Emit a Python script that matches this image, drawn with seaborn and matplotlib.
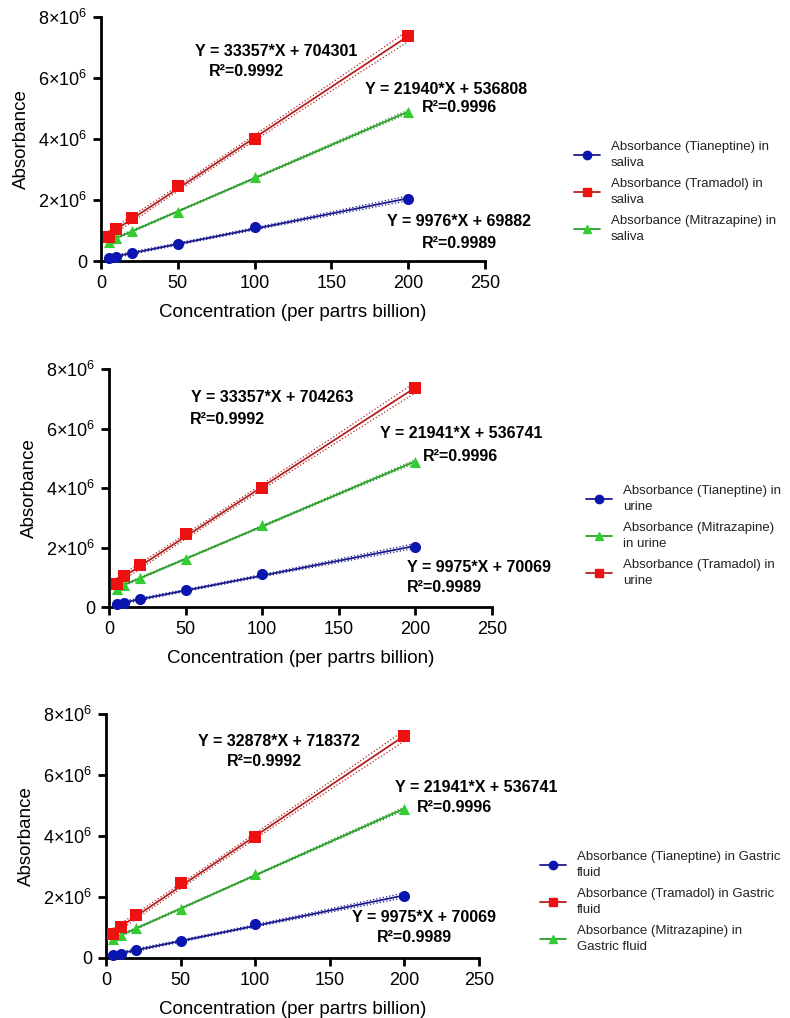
"""Calibration curves of three drugs in saliva, urine and gastric fluid."""

import matplotlib
matplotlib.use("Agg")
import matplotlib.pyplot as plt
import numpy as np
import pandas as pd
import seaborn as sns
from matplotlib.lines import Line2D
from matplotlib.ticker import FuncFormatter

# concentrations (ppb)
conc = [5, 10, 20, 50, 100, 200]

# saliva
saliva_tian = [0.09e6, 0.13e6, 0.27e6, 0.57e6, 1.10e6, 2.03e6]
saliva_tram = [0.78e6, 1.05e6, 1.40e6, 2.47e6, 4.00e6, 7.37e6]
saliva_mitr = [0.62e6, 0.76e6, 0.98e6, 1.62e6, 2.75e6, 4.88e6]

# urine
urine_tian = [0.09e6, 0.13e6, 0.27e6, 0.57e6, 1.10e6, 2.03e6]
urine_tram = [0.78e6, 1.03e6, 1.40e6, 2.47e6, 4.00e6, 7.37e6]
urine_mitr = [0.62e6, 0.74e6, 0.97e6, 1.62e6, 2.75e6, 4.88e6]

# gastric fluid
gastric_tian = [0.09e6, 0.13e6, 0.27e6, 0.57e6, 1.10e6, 2.03e6]
gastric_tram = [0.78e6, 1.03e6, 1.40e6, 2.45e6, 3.98e6, 7.27e6]
gastric_mitr = [0.62e6, 0.74e6, 0.97e6, 1.62e6, 2.75e6, 4.88e6]

# equation labels as printed on the chart
saliva_eqs = {
    "tram": ("Y = 33357*X + 704301", "R²=0.9992"),
    "mitr": ("Y = 21940*X + 536808", "R²=0.9996"),
    "tian": ("Y = 9976*X + 69882", "R²=0.9989"),
}
urine_eqs = {
    "tram": ("Y = 33357*X + 704263", "R²=0.9992"),
    "mitr": ("Y = 21941*X + 536741", "R²=0.9996"),
    "tian": ("Y = 9975*X + 70069", "R²=0.9989"),
}
gastric_eqs = {
    "tram": ("Y = 32878*X + 718372", "R²=0.9992"),
    "mitr": ("Y = 21941*X + 536741", "R²=0.9996"),
    "tian": ("Y = 9975*X + 70069", "R²=0.9989"),
}

saliva_labels = ["Absorbance (Tianeptine) in\nsaliva", "Absorbance (Tramadol) in\nsaliva",
                 "Absorbance (Mitrazapine) in\nsaliva"]
urine_labels = ["Absorbance (Tianeptine) in\nurine", "Absorbance (Mitrazapine)\nin urine",
                "Absorbance (Tramadol) in\nurine"]
gastric_labels = ["Absorbance (Tianeptine) in Gastric\nfluid",
                  "Absorbance (Tramadol) in Gastric\nfluid",
                  "Absorbance (Mitrazapine) in\nGastric fluid"]

STYLE = {
    "tian": dict(marker="o", mcolor="#0b15b0", lcolor="#1a1a8c", ms=8),
    "tram": dict(marker="s", mcolor="#ee1111", lcolor="#b22222", ms=8.5),
    "mitr": dict(marker="^", mcolor="#33cc33", lcolor="#2e9e2e", ms=8),
}
T_CRIT = 2.776  # t(0.975, df=4)

sns.set_theme(style="ticks")
plt.rcParams["font.family"] = ["Liberation Sans", "DejaVu Sans"]
plt.rcParams["mathtext.fontset"] = "custom"
plt.rcParams["mathtext.rm"] = "Liberation Sans"
plt.rcParams["axes.linewidth"] = 2
plt.rcParams["xtick.major.width"] = 2
plt.rcParams["ytick.major.width"] = 2
plt.rcParams["xtick.major.size"] = 6
plt.rcParams["ytick.major.size"] = 6
for k in ["text.color", "axes.labelcolor", "xtick.color", "ytick.color", "axes.edgecolor"]:
    plt.rcParams[k] = "black"


def sci_fmt(v, _pos):
    if v == 0:
        return "0"
    return r"$%d{\times}10^{6}$" % round(v / 1e6)


def draw_series(ax, key, values):
    st = STYLE[key]
    x = np.array(conc, dtype=float)
    y = np.array(values, dtype=float)
    slope, icpt = np.polyfit(x, y, 1)
    resid = y - (slope * x + icpt)
    s = np.sqrt(np.sum(resid ** 2) / (len(x) - 2))
    xs = np.linspace(x.min(), x.max(), 100)
    fit = slope * xs + icpt
    half = T_CRIT * s * np.sqrt(1 / len(x) + (xs - x.mean()) ** 2 / np.sum((x - x.mean()) ** 2))
    df = pd.DataFrame({"x": xs, "fit": fit, "lo": fit - half, "hi": fit + half})
    sns.lineplot(data=df, x="x", y="fit", ax=ax, color=st["lcolor"], lw=1.3)
    sns.lineplot(data=df, x="x", y="lo", ax=ax, color=st["lcolor"], lw=0.9, linestyle=":")
    sns.lineplot(data=df, x="x", y="hi", ax=ax, color=st["lcolor"], lw=0.9, linestyle=":")
    sns.scatterplot(x=x, y=y, ax=ax, marker=st["marker"], color=st["mcolor"],
                    s=st["ms"] ** 2, edgecolor=st["mcolor"], linewidth=0, zorder=5, clip_on=False)


def px(x, y):
    return x / 790, 1 - y / 1018


def panel(fig, rect, data, eqs, eq_pos, order, labels, leg_xy):
    ax = fig.add_axes(rect)
    for key in ["tian", "mitr", "tram"]:
        draw_series(ax, key, data[key])
    ax.set_xlim(0, 250)
    ax.set_ylim(0, 8e6)
    ax.set_xticks([0, 50, 100, 150, 200, 250])
    ax.set_yticks([0, 2e6, 4e6, 6e6, 8e6])
    ax.yaxis.set_major_formatter(FuncFormatter(sci_fmt))
    ax.tick_params(labelsize=13, pad=4)
    ax.set_xlabel("Concentration (per partrs billion)", fontsize=13.5, labelpad=9)
    ax.set_ylabel("Absorbance", fontsize=13.5, labelpad=6)
    sns.despine(ax=ax)

    for key, ((ex, ey), (rx, ry)) in eq_pos.items():
        eq, r2 = eqs[key]
        fig.text(*px(ex, ey), eq, fontsize=11.5, fontweight="bold", va="center", ha="left")
        fig.text(*px(rx, ry), r2, fontsize=11.5, fontweight="bold", va="center", ha="left")

    handles = []
    for key in order:
        st = STYLE[key]
        handles.append(Line2D([], [], color=st["lcolor"], marker=st["marker"],
                              markerfacecolor=st["mcolor"], markeredgecolor=st["mcolor"],
                              markersize=6, lw=1.3))
    leg = fig.legend(handles, labels, loc="center left", bbox_to_anchor=px(*leg_xy),
                     frameon=False, fontsize=9.5, handlelength=2.0, labelspacing=0.75,
                     handletextpad=0.8)
    for t in leg.get_texts():
        t.set_linespacing(1.35)
        t.set_color("#222222")
    return ax


fig = plt.figure(figsize=(7.9, 10.18), dpi=100)

# saliva
panel(fig, [101 / 790, 1 - 261 / 1018, 384 / 790, 244 / 1018],
      {"tian": saliva_tian, "tram": saliva_tram, "mitr": saliva_mitr}, saliva_eqs,
      {"tram": ((195, 52), (209, 72)), "mitr": ((365, 89), (422, 108)),
       "tian": ((387, 221), (422, 243))},
      ["tian", "tram", "mitr"], saliva_labels, (562, 192))

# urine
panel(fig, [109 / 790, 1 - 607 / 1018, 383 / 790, 238 / 1018],
      {"tian": urine_tian, "tram": urine_tram, "mitr": urine_mitr}, urine_eqs,
      {"tram": ((191, 397), (190, 419)), "mitr": ((380, 433), (423, 456)),
       "tian": ((407, 567), (407, 587))},
      ["tian", "mitr", "tram"], urine_labels, (574, 536))

# gastric fluid
panel(fig, [106 / 790, 1 - 958 / 1018, 373 / 790, 244 / 1018],
      {"tian": gastric_tian, "tram": gastric_tram, "mitr": gastric_mitr}, gastric_eqs,
      {"tram": ((198, 742), (227, 762)), "mitr": ((395, 788), (417, 808)),
       "tian": ((352, 917), (377, 937))},
      ["tian", "tram", "mitr"], gastric_labels, (528, 902))

fig.savefig("out.png", dpi=100)
